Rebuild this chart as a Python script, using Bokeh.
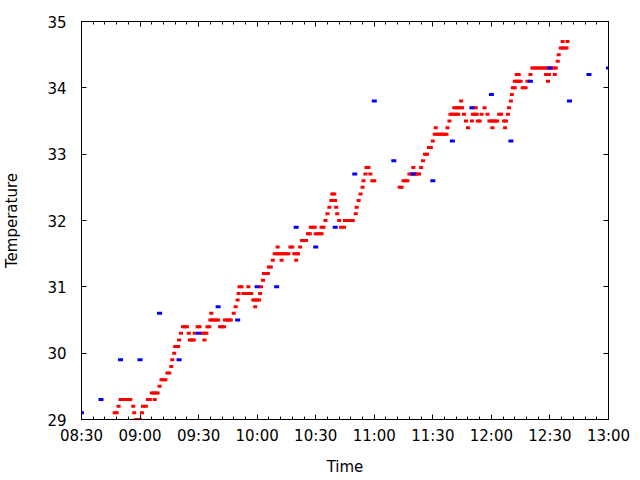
from bokeh.plotting import figure
from bokeh.models import FixedTicker, LinearAxis, Range1d, ColumnDataSource
from bokeh.embed import file_html
from bokeh.resources import INLINE

# ---------------- data ----------------
# x values are minutes after 08:30
x_tick_labels = ["08:30", "09:00", "09:30", "10:00", "10:30",
                 "11:00", "11:30", "12:00", "12:30", "13:00"]
y_tick_values = [29, 30, 31, 32, 33, 34, 35]

red_minutes = [
    17, 18, 19, 20, 21, 22, 23, 24, 25, 26.5, 27, 28, 29, 30, 31, 31.5, 33, 34, 35,
    36, 37, 37.5, 38, 39, 40, 41, 42, 43, 44, 45, 46, 46.5, 47.5, 48, 49.5, 50, 51,
    52, 53, 54, 55, 55.5, 56.5, 57.5, 58, 59.5, 60.5, 62, 63, 63, 64, 64.5, 65.5,
    66, 66.5, 67, 68, 69, 70, 71, 72, 73, 73.5, 74.5, 75.5, 76.5, 78, 79, 80, 80.5,
    81, 82, 83, 84, 85, 85.5, 86, 87, 88, 89, 89, 90, 91, 91.5, 92, 93, 93.5, 94.5,
    95.5, 96, 97, 98, 99, 100, 100.5, 101, 102, 102.5, 103, 104, 105, 106, 107, 108,
    109, 110, 110, 111, 112, 113, 114, 115, 116, 117, 117.5, 118.5, 119.5, 120, 121,
    122, 123, 123, 124, 125, 126, 127, 128, 128.5, 129, 129.5, 130, 130.5, 131, 132,
    133, 134.5, 135, 136, 137, 138, 139, 140.5, 141, 142, 143, 144, 144.5, 145.5,
    146, 147, 148, 149, 150, 163, 164, 165, 166, 167, 168, 169, 170, 170, 171, 172,
    173, 174, 175, 176, 177, 178, 179, 180, 181, 181.5, 182, 183, 184, 185, 186, 187,
    187.5, 188.5, 189, 190, 191, 191, 192, 192, 193, 193, 194, 194.5, 195, 196, 197,
    198, 200, 200.5, 201, 201.5, 202, 202.5, 203, 204, 205, 206.5, 208, 209, 210,
    210.5, 211, 212, 213, 214, 215, 216.5, 217, 217.5, 218.5, 219, 220, 220.5, 221,
    222, 222, 223, 223, 224, 224, 225, 226, 227.5, 228.5, 230, 231, 232, 233, 234,
    235, 236, 237, 238, 239, 238, 239, 239.5, 240, 241, 242, 242.5, 243, 244, 244.5,
    245.5, 246.5, 246.5, 247.5, 248.5, 249,
]
red_temps = [
    29.1, 29.1, 29.2, 29.3, 29.3, 29.3, 29.3, 29.3, 29.3, 29.2, 29.1, 29.0, 29.0, 29.0, 29.1, 29.2, 29.2, 29.3, 29.3,
    29.4, 29.4, 29.3, 29.4, 29.4, 29.5, 29.6, 29.6, 29.6, 29.7, 29.7, 29.8, 29.9, 30.0, 30.1, 30.1, 30.2, 30.3,
    30.4, 30.4, 30.4, 30.3, 30.2, 30.2, 30.2, 30.3, 30.4, 30.4, 30.3, 30.2, 30.3, 30.3, 30.4, 30.4,
    30.5, 30.6, 30.5, 30.5, 30.5, 30.5, 30.4, 30.4, 30.4, 30.5, 30.5, 30.5, 30.5, 30.6, 30.7, 30.8, 30.9,
    31.0, 31.0, 30.9, 30.9, 30.9, 31.0, 30.9, 30.9, 30.8, 30.8, 30.7, 30.8, 30.8, 30.9, 31.0, 31.1, 31.2, 31.2,
    31.2, 31.3, 31.3, 31.4, 31.5, 31.5, 31.6, 31.5, 31.5, 31.4, 31.5, 31.5, 31.5, 31.5, 31.6, 31.6,
    31.5, 31.5, 31.4, 31.5, 31.6, 31.7, 31.7, 31.7, 31.8, 31.8, 31.9, 31.9, 31.9, 31.8, 31.8,
    31.8, 31.8, 31.9, 31.9, 32.0, 32.1, 32.2, 32.3, 32.4, 32.3, 32.4, 32.3, 32.2, 32.1, 32.0,
    31.9, 31.9, 32.0, 32.0, 32.0, 32.0, 32.0, 32.1, 32.2, 32.3, 32.4, 32.5, 32.6, 32.7,
    32.8, 32.8, 32.7, 32.6, 32.6, 32.5, 32.5, 32.6, 32.6, 32.6, 32.7, 32.7, 32.7, 32.8, 32.7, 32.7,
    32.7, 32.8, 32.9, 33.0, 33.0, 33.1, 33.1, 33.2, 33.3, 33.4, 33.3, 33.3, 33.3, 33.3, 33.3, 33.3,
    33.4, 33.5, 33.6, 33.6, 33.6, 33.7, 33.6, 33.7, 33.6, 33.7, 33.7, 33.8, 33.7, 33.6, 33.5,
    33.4, 33.5, 33.6, 33.7, 33.6, 33.7, 33.6, 33.5, 33.5, 33.6, 33.7, 33.6, 33.5, 33.5,
    33.4, 33.5, 33.5, 33.5, 33.6, 33.6, 33.5, 33.4, 33.5, 33.6, 33.7, 33.8, 33.9, 34.0,
    34.0, 34.1, 34.1, 34.2, 34.1, 34.2, 34.1, 34.0, 34.0, 34.1, 34.2, 34.3, 34.3, 34.3, 34.3,
    34.3, 34.3, 34.3, 34.3, 34.3, 34.2, 34.1, 34.2, 34.3, 34.3, 34.3, 34.2, 34.3, 34.4, 34.5,
    34.6, 34.6, 34.7, 34.6, 34.6, 34.7,
]

blue_minutes = [0, 10, 20, 30, 40, 50, 60, 70, 80, 90, 100, 110, 120, 130,
                140, 150, 160, 170, 180, 190, 200, 210, 220, 230, 240, 250, 260, 270]
blue_temps = [29.1, 29.3, 29.9, 29.9, 30.6, 29.9, 30.3, 30.7, 30.5, 31.0, 31.0, 31.9, 31.6, 31.9,
              32.7, 33.8, 32.9, 32.7, 32.6, 33.2, 33.7, 33.9, 33.2, 34.1, 34.3, 33.8, 34.2, 34.3]

# ---------------- figure ----------------
x_major = [30 * i for i in range(len(x_tick_labels))]
x_minor = list(range(0, 271, 6))
x_ticker = FixedTicker(ticks=x_major, minor_ticks=x_minor)
y_ticker = FixedTicker(ticks=y_tick_values, minor_ticks=[])

FONT = "DejaVu Sans"
FS = "15px"

p = figure(frame_width=527, frame_height=398,
           min_border_left=71, min_border_right=34,
           min_border_top=21, min_border_bottom=53,
           x_range=Range1d(0, 270), y_range=Range1d(29, 35),
           output_backend="svg", toolbar_location=None,
           background_fill_color="white", border_fill_color="white")
p.grid.visible = False
p.outline_line_color = "black"
p.outline_line_width = 1


def style_axis(ax):
    ax.axis_line_color = "black"
    ax.major_tick_line_color = "black"
    ax.minor_tick_line_color = "black"
    ax.major_tick_in = 5
    ax.major_tick_out = 0
    ax.minor_tick_in = 3
    ax.minor_tick_out = 0
    ax.major_label_text_font = FONT
    ax.major_label_text_font_size = FS
    ax.major_label_text_color = "black"
    ax.axis_label_text_font = FONT
    ax.axis_label_text_font_size = FS
    ax.axis_label_text_font_style = "normal"
    ax.axis_label_text_color = "black"


xa = p.below[0]
ya = p.left[0]
style_axis(xa)
style_axis(ya)
xa.ticker = x_ticker
xa.major_label_overrides = {v: lab for v, lab in zip(x_major, x_tick_labels)}
xa.major_label_standoff = 7
xa.axis_label = "Time"
xa.axis_label_standoff = 10
ya.ticker = y_ticker
ya.major_label_standoff = 15
ya.axis_label = "Temperature"
ya.axis_label_standoff = 23

# mirrored tick marks on the top and right edges (no labels drawn)
top = LinearAxis(ticker=x_ticker)
style_axis(top)
top.major_label_text_color = None
top.major_label_standoff = 0
p.add_layout(top, "above")

right = LinearAxis(ticker=y_ticker)
style_axis(right)
right.major_label_text_color = None
right.major_label_standoff = 0
p.add_layout(right, "right")

red_src = ColumnDataSource(dict(x=red_minutes, y=red_temps))
blue_src = ColumnDataSource(dict(x=blue_minutes, y=blue_temps))

p.rect(x="x", y="y", width=4, height=3, width_units="screen", height_units="screen",
       source=red_src, fill_color="#ff0000", line_color=None)
p.rect(x="x", y="y", width=5, height=3, width_units="screen", height_units="screen",
       source=blue_src, fill_color="#0000ff", line_color=None)

open("out.html", "w").write(file_html(p, INLINE))
